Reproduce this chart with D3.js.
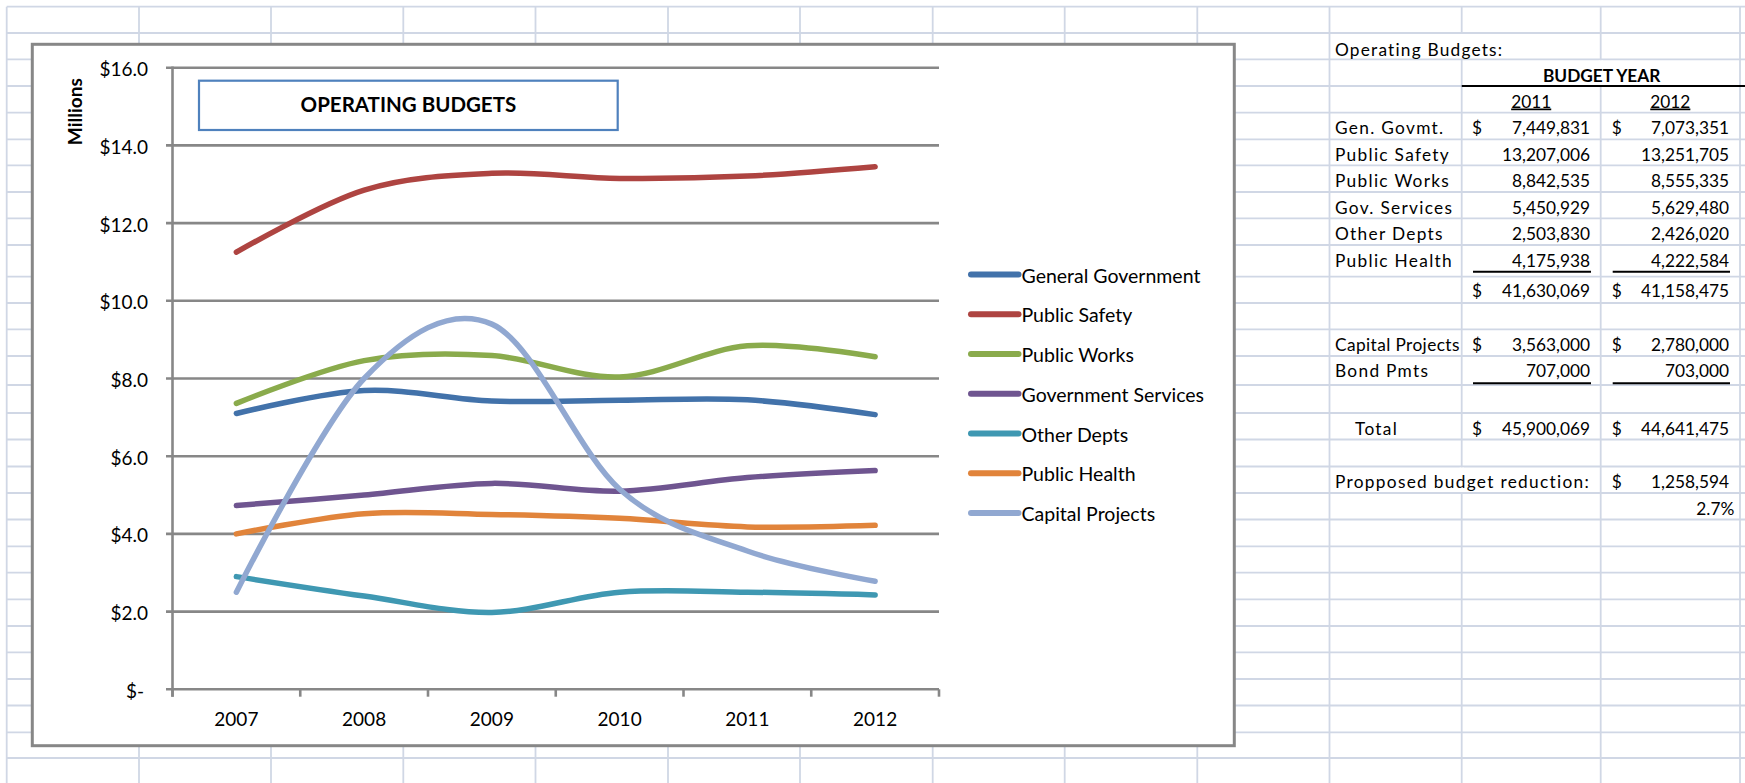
<!DOCTYPE html>
<html>
<head>
<meta charset="utf-8">
<script src="https://cdn.jsdelivr.net/npm/d3@7"></script>
<style>
  body { margin: 0; background: #fff; }
  svg text { font-family: Lato, 'Open Sans', sans-serif; fill: #000; }
</style>
</head>
<body>
<div id="sheet"></div>
<script>
// chart data, millions of dollars
const years = ['2007', '2008', '2009', '2010', '2011', '2012'];
const generalGovernment = [7.10, 7.69, 7.42, 7.44, 7.45, 7.07];
const publicSafety = [11.25, 12.85, 13.28, 13.15, 13.21, 13.45];
const publicWorks = [7.36, 8.46, 8.59, 8.04, 8.84, 8.56];
const governmentServices = [4.73, 5.00, 5.30, 5.10, 5.45, 5.63];
const otherDepts = [2.90, 2.40, 1.98, 2.50, 2.50, 2.43];
const publicHealth = [4.00, 4.52, 4.50, 4.40, 4.18, 4.22];
const capitalProjects = [2.50, 8.00, 9.40, 5.15, 3.56, 2.78];

const seriesNames = ['General Government', 'Public Safety', 'Public Works',
  'Government Services', 'Other Depts', 'Public Health', 'Capital Projects'];
const seriesValues = [generalGovernment, publicSafety, publicWorks,
  governmentServices, otherDepts, publicHealth, capitalProjects];
const seriesColors = ['#4272AA', '#AE4441', '#8AAB4C', '#6F5590', '#3F98B2', '#E1843B', '#91A8D1'];

const yTickValues = [0, 2, 4, 6, 8, 10, 12, 14, 16];
const yTickLabels = ['$-', '$2.0', '$4.0', '$6.0', '$8.0', '$10.0', '$12.0', '$14.0', '$16.0'];

// table data
const deptLabels = ['Gen. Govmt.', 'Public Safety', 'Public Works', 'Gov. Services', 'Other Depts', 'Public Health'];
const budget2011 = [7449831, 13207006, 8842535, 5450929, 2503830, 4175938];
const budget2012 = [7073351, 13251705, 8555335, 5629480, 2426020, 4222584];
const capitalBudget = [3563000, 2780000];
const bondPayments = [707000, 703000];

// dimensions
const width = 1745;
const height = 783;

const svg = d3.select('#sheet')
  .append('svg')
  .attr('width', width)
  .attr('height', height);

// spreadsheet grid behind everything
const colLines = [6.7, 139, 271, 403.3, 535.5, 668, 800, 932.7, 1064.7, 1197.3, 1329.5, 1461.7, 1600.7, 1740];
const rowLines = [6.7, 33, 59.3, 86, 112.7, 139.3, 165.3, 192, 218.3, 245, 276.7, 303, 329.3, 356,
  385, 413, 439.5, 466.5, 493, 519.5, 546.3, 572.7, 599.3, 626, 652.3, 679, 705.5, 732.3, 758];
const gridColor = '#D0D7E5';

svg.append('g')
  .selectAll('line')
  .data(rowLines)
  .enter().append('line')
  .attr('x1', 6.7).attr('x2', width)
  .attr('y1', d => d).attr('y2', d => d)
  .attr('stroke', gridColor)
  .attr('stroke-width', 1.8);

svg.append('g')
  .selectAll('line')
  .data(colLines)
  .enter().append('line')
  .attr('x1', d => d).attr('x2', d => d)
  .attr('y1', 6.7).attr('y2', height)
  .attr('stroke', gridColor)
  .attr('stroke-width', 1.8);

// cells where text overflows or is centred across columns hide the border
const hiddenBorders = [[1461.7, 33, 59.3], [1600.7, 59.3, 86], [1461.7, 466.5, 493]];
svg.append('g')
  .selectAll('rect')
  .data(hiddenBorders)
  .enter().append('rect')
  .attr('x', d => d[0] - 2)
  .attr('y', d => d[1] + 1)
  .attr('width', 4)
  .attr('height', d => d[2] - d[1] - 2)
  .attr('fill', '#fff');

// chart frame
svg.append('rect')
  .attr('x', 32.3)
  .attr('y', 44.3)
  .attr('width', 1202)
  .attr('height', 701.4)
  .attr('fill', '#fff')
  .attr('stroke', '#878787')
  .attr('stroke-width', 3);

// scales
const x = d3.scaleBand()
  .domain(years)
  .range([172.5, 939]);

const y = d3.scaleLinear()
  .domain([0, 16])
  .range([689.3, 67.7]);

const axisColor = '#878787';

// horizontal gridlines
svg.append('g')
  .selectAll('line')
  .data(yTickValues)
  .enter().append('line')
  .attr('x1', 166).attr('x2', 939)
  .attr('y1', d => y(d)).attr('y2', d => y(d))
  .attr('stroke', axisColor)
  .attr('stroke-width', 2.6);

// y axis
const yAxis = svg.append('g')
  .attr('transform', 'translate(172.5,0)')
  .call(d3.axisLeft(y)
    .tickValues(yTickValues)
    .tickSize(0)
    .tickPadding(24.5)
    .tickFormat((d, i) => yTickLabels[i]));

yAxis.select('.domain').remove();
yAxis.selectAll('text')
  .attr('font-size', 19)
  .attr('font-family', null)
  .attr('dy', '0.42em')
  .attr('x', d => (d === 0 ? -28.5 : -24.5));

svg.append('line')
  .attr('x1', 172.5).attr('x2', 172.5)
  .attr('y1', y(16) - 1.3).attr('y2', 696.7)
  .attr('stroke', axisColor)
  .attr('stroke-width', 2.6);

// x axis
const xAxis = svg.append('g')
  .attr('transform', `translate(0,${y(0)})`)
  .call(d3.axisBottom(x).tickSize(0).tickPadding(23));

xAxis.select('.domain').remove();
xAxis.selectAll('text')
  .attr('font-size', 19)
  .attr('font-family', null);

const tickEdges = years.map(d => x(d)).concat([x.range()[1]]);
svg.append('g')
  .selectAll('line')
  .data(tickEdges)
  .enter().append('line')
  .attr('x1', d => d).attr('x2', d => d)
  .attr('y1', y(0)).attr('y2', 696.7)
  .attr('stroke', axisColor)
  .attr('stroke-width', 2.6);

svg.append('text')
  .attr('transform', 'translate(81.5,111.7) rotate(-90)')
  .attr('text-anchor', 'middle')
  .attr('font-size', 19)
  .attr('font-weight', 700)
  .text('Millions');

// title box
svg.append('rect')
  .attr('x', 199)
  .attr('y', 80.7)
  .attr('width', 418.7)
  .attr('height', 49.3)
  .attr('fill', '#fff')
  .attr('stroke', '#4F81BD')
  .attr('stroke-width', 2.2);

svg.append('text')
  .attr('x', 408.4)
  .attr('y', 112.3)
  .attr('text-anchor', 'middle')
  .attr('font-size', 20.5)
  .attr('font-weight', 700)
  .text('OPERATING BUDGETS');

// smoothed lines
const line = d3.line()
  .x((d, i) => x(years[i]) + x.bandwidth() / 2)
  .y(d => y(d))
  .curve(d3.curveCardinal.tension(0));

svg.append('g')
  .selectAll('path')
  .data(seriesValues)
  .enter().append('path')
  .attr('d', line)
  .attr('fill', 'none')
  .attr('stroke', (d, i) => seriesColors[i])
  .attr('stroke-width', 5.5)
  .attr('stroke-linecap', 'round')
  .attr('stroke-linejoin', 'round');

// legend
const legend = svg.append('g')
  .selectAll('g')
  .data(seriesNames)
  .enter().append('g')
  .attr('transform', (d, i) => `translate(0,${274.5 + i * 39.75})`);

legend.append('line')
  .attr('x1', 971).attr('x2', 1018.5)
  .attr('stroke', (d, i) => seriesColors[i])
  .attr('stroke-width', 6)
  .attr('stroke-linecap', 'round');

legend.append('text')
  .attr('x', 1021.5)
  .attr('y', 8)
  .attr('font-size', 19.5)
  .text(d => d);

// budget table
const fmt = d3.format(',');
const table = svg.append('g')
  .attr('font-size', 17.3);

const labelX = 1335;
const dollarX = [1472, 1611.7];
const valueX = [1590, 1729];

function label(text, yPos, spacing, xPos) {
  table.append('text')
    .attr('x', xPos || labelX)
    .attr('y', yPos)
    .attr('letter-spacing', spacing)
    .text(text);
}

function money(val, col, yPos, withDollar) {
  if (withDollar) {
    table.append('text')
      .attr('x', dollarX[col])
      .attr('y', yPos)
      .text('$');
  }
  table.append('text')
    .attr('x', valueX[col])
    .attr('y', yPos)
    .attr('text-anchor', 'end')
    .text(fmt(val));
}

function underline(col, yPos) {
  table.append('line')
    .attr('x1', dollarX[col] + 1).attr('x2', valueX[col] + 1)
    .attr('y1', yPos).attr('y2', yPos)
    .attr('stroke', '#000')
    .attr('stroke-width', 2);
}

label('Operating Budgets:', 55.5, 1.2);

table.append('text')
  .attr('x', 1601.7)
  .attr('y', 81.7)
  .attr('text-anchor', 'middle')
  .attr('font-weight', 700)
  .text('BUDGET YEAR');

table.append('line')
  .attr('x1', 1461.7).attr('x2', 1745)
  .attr('y1', 86).attr('y2', 86)
  .attr('stroke', '#000')
  .attr('stroke-width', 1.8);

['2011', '2012'].forEach((yr, i) => {
  const cx = i === 0 ? 1531.2 : 1670.3;
  table.append('text')
    .attr('x', cx)
    .attr('y', 107.5)
    .attr('text-anchor', 'middle')
    .attr('text-decoration', 'underline')
    .text(yr);
});

const deptBaselines = [134, 160.7, 187.3, 213.7, 240, 266.7];
deptLabels.forEach((name, i) => {
  label(name, deptBaselines[i], 1.3);
  money(budget2011[i], 0, deptBaselines[i], i === 0);
  money(budget2012[i], 1, deptBaselines[i], i === 0);
});
underline(0, 271.7);
underline(1, 271.7);

const subtotal = [d3.sum(budget2011), d3.sum(budget2012)];
money(subtotal[0], 0, 296.7, true);
money(subtotal[1], 1, 296.7, true);

label('Capital Projects', 350.7, 0.4);
money(capitalBudget[0], 0, 350.7, true);
money(capitalBudget[1], 1, 350.7, true);

label('Bond Pmts', 377.3, 1.3);
money(bondPayments[0], 0, 377.3, false);
money(bondPayments[1], 1, 377.3, false);
underline(0, 383.3);
underline(1, 383.3);

const totals = [0, 1].map(c => subtotal[c] + capitalBudget[c] + bondPayments[c]);
label('Total', 435, 1.3, 1355);
money(totals[0], 0, 435, true);
money(totals[1], 1, 435, true);

const reduction = totals[0] - totals[1];
label('Propposed budget reduction:', 488.3, 1.3);
money(reduction, 1, 488.3, true);

table.append('text')
  .attr('x', 1734.3)
  .attr('y', 515)
  .attr('text-anchor', 'end')
  .text(d3.format('.1%')(reduction / totals[0]));
</script>
</body>
</html>
